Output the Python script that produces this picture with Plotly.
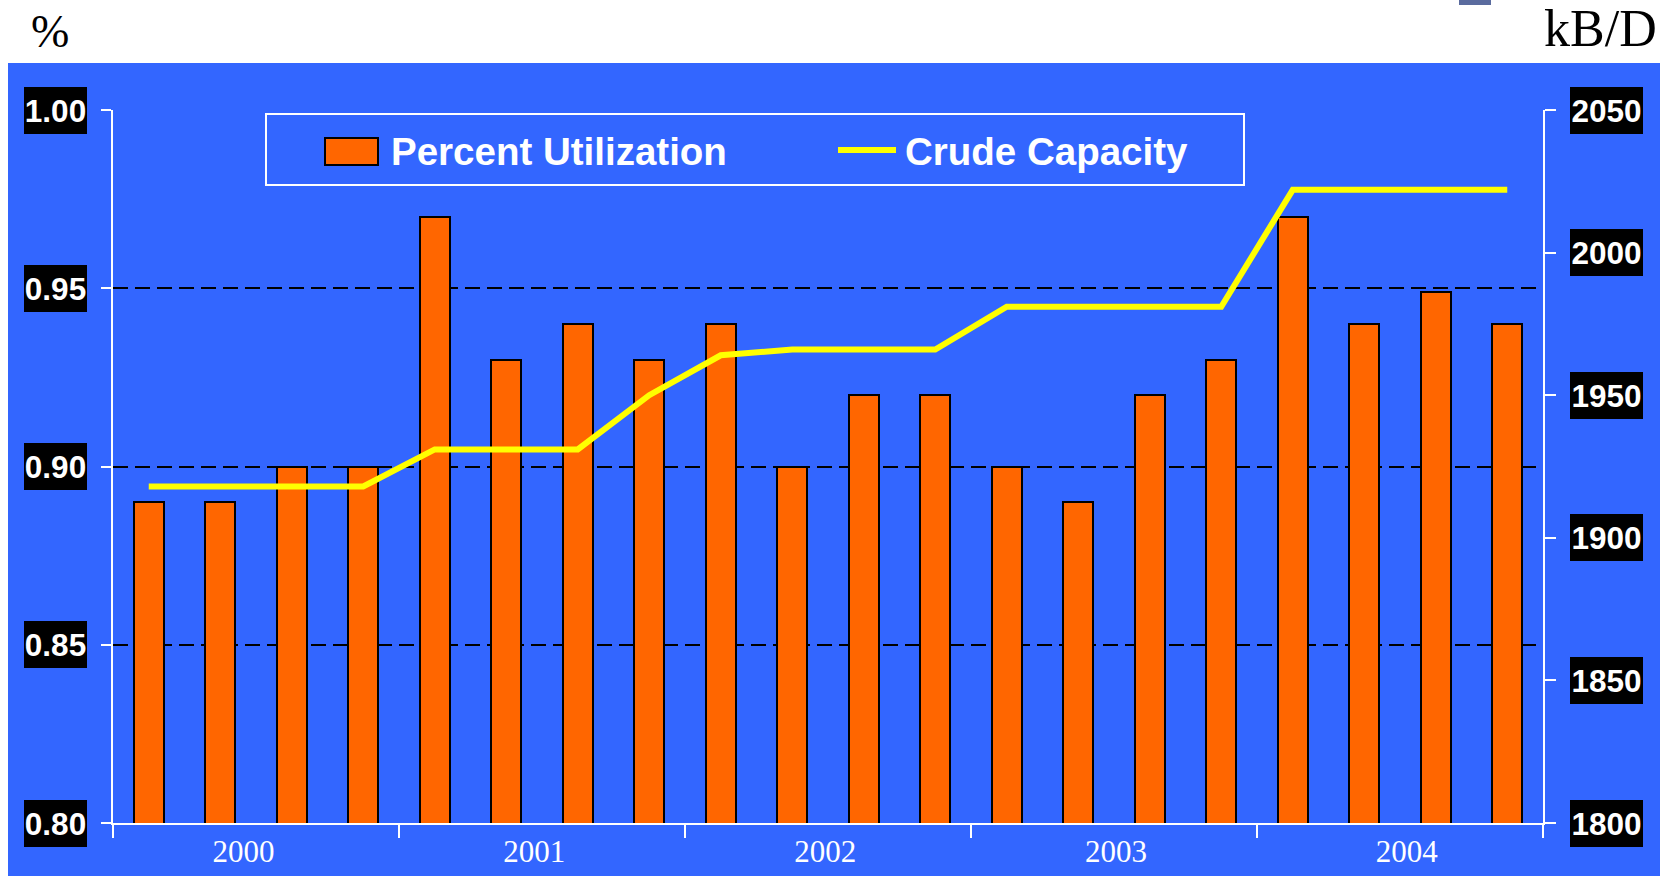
import plotly.graph_objects as go

# ---------------- data ----------------
years = ["2000", "2001", "2002", "2003", "2004"]
quarters = ["Q1", "Q2", "Q3", "Q4"]
utilization = [0.89, 0.89, 0.90, 0.90,
               0.97, 0.93, 0.94, 0.93,
               0.94, 0.90, 0.92, 0.92,
               0.90, 0.89, 0.92, 0.93,
               0.97, 0.94, 0.949, 0.94]
capacity = [1918, 1918, 1918, 1918,
            1931, 1931, 1931, 1950,
            1964, 1966, 1966, 1966,
            1981, 1981, 1981, 1981,
            2022, 2022, 2022, 2022]
left_ticks = [0.80, 0.85, 0.90, 0.95, 1.00]
left_labels = ["0.80", "0.85", "0.90", "0.95", "1.00"]
right_ticks = [1800, 1850, 1900, 1950, 2000, 2050]
right_labels = ["1800", "1850", "1900", "1950", "2000", "2050"]
series_names = ["Percent Utilization", "Crude Capacity"]

# ---------------- layout constants ----------------
W, H = 1665, 876
L, R, T, B = 113, 1543, 110, 823
BLUE = "#3366FF"
ORANGE = "#FF6600"
YELLOW = "#FFFF00"
SANS = "Liberation Sans, Arial, sans-serif"
SERIF = "Liberation Serif, Times New Roman, serif"
Y1_RANGE = [0.80, 1.00]
Y2_RANGE = [1800, 2050]

def px(xp):
    return (xp - L) / (R - L)

def py(yp):
    return (B - yp) / (B - T)

n_q = len(quarters)
n = len(years) * n_q
x_idx = list(range(n))
year_centers = [i * n_q + (n_q - 1) / 2 for i in range(len(years))]
# year labels in the original sit slightly spread out from the group centres
mid = (n - 1) / 2
label_pos = [mid + (c - mid) * 1.017 - 0.04 for c in year_centers]
year_bounds = [i * n_q - 0.5 for i in range(len(years) + 1)]

fig = go.Figure()
fig.add_trace(go.Bar(
    x=x_idx, y=utilization, name=series_names[0],
    marker=dict(color=ORANGE, line=dict(color="black", width=2)),
    width=0.42, yaxis="y", showlegend=False,
))
fig.add_trace(go.Scatter(
    x=x_idx, y=capacity, name=series_names[1], mode="lines",
    line=dict(color=YELLOW, width=6), yaxis="y2", showlegend=False,
))

fig.update_layout(
    width=W, height=H,
    margin=dict(l=L, r=W - R, t=T, b=H - B, pad=0, autoexpand=False),
    paper_bgcolor="white",
    plot_bgcolor=BLUE,
    bargap=0,
    xaxis=dict(
        range=[-0.5, n - 0.5], automargin=False,
        tickmode="array", tickvals=label_pos, ticktext=years,
        ticks="", showgrid=False, zeroline=False,
        showline=True, linecolor="white", linewidth=2,
        tickfont=dict(family=SERIF, size=31, color="white"),
        ticklabelstandoff=0,
        minor=dict(tickmode="array", tickvals=year_bounds, ticks="outside",
                   ticklen=13, tickcolor="white", tickwidth=2, showgrid=False),
    ),
    yaxis=dict(
        range=Y1_RANGE, automargin=False, tickmode="array", tickvals=left_ticks,
        showticklabels=False, ticks="outside", ticklen=10,
        tickcolor="white", tickwidth=2,
        showline=True, linecolor="white", linewidth=2,
        showgrid=True, gridcolor="black", gridwidth=2, griddash="15px,7px",
        zeroline=False,
    ),
    yaxis2=dict(
        range=Y2_RANGE, automargin=False, overlaying="y", side="right",
        tickmode="array", tickvals=right_ticks, showticklabels=False,
        ticks="outside", ticklen=11, tickcolor="white", tickwidth=2,
        showline=True, linecolor="white", linewidth=2,
        showgrid=False, zeroline=False,
    ),
    yaxis3=dict(
        range=Y2_RANGE, automargin=False, overlaying="y", side="right",
        tickmode="array", tickvals=right_ticks, showticklabels=False,
        ticks="inside", ticklen=10, tickcolor="white", tickwidth=2,
        showline=False, showgrid=False, zeroline=False,
    ),
    showlegend=False,
)

shapes = []
# blue panel behind everything
shapes.append(dict(type="rect", xref="paper", yref="paper", layer="below",
                   x0=px(8), x1=px(1660), y0=py(H + 2), y1=py(63),
                   fillcolor=BLUE, line=dict(width=0)))
# small remnant mark at top
shapes.append(dict(type="rect", xref="paper", yref="paper",
                   x0=px(1459), x1=px(1491), y0=py(5), y1=py(-2),
                   fillcolor="#5A6B9E", line=dict(width=0)))
# legend box
shapes.append(dict(type="rect", xref="paper", yref="paper",
                   x0=px(266), x1=px(1244), y0=py(185), y1=py(114),
                   fillcolor=BLUE, line=dict(color="white", width=2)))
shapes.append(dict(type="rect", xref="paper", yref="paper",
                   x0=px(325), x1=px(378), y0=py(165), y1=py(138),
                   fillcolor=ORANGE, line=dict(color="black", width=2)))
shapes.append(dict(type="line", xref="paper", yref="paper",
                   x0=px(838), x1=px(896), y0=py(150), y1=py(150),
                   line=dict(color=YELLOW, width=6)))
fig.update_layout(shapes=shapes)

ann = []
ann.append(dict(xref="paper", yref="paper", x=px(389), y=py(151),
                xanchor="left", yanchor="middle", showarrow=False,
                text="<b>" + series_names[0] + "</b>",
                font=dict(family=SANS, size=38.5, color="white")))
ann.append(dict(xref="paper", yref="paper", x=px(903), y=py(151),
                xanchor="left", yanchor="middle", showarrow=False,
                text="<b>" + series_names[1] + "</b>",
                font=dict(family=SANS, size=38.5, color="white")))
for v, t in zip(left_ticks, left_labels):
    ann.append(dict(xref="paper", yref="y", x=px(55.5), y=v,
                    xanchor="center", yanchor="middle", showarrow=False,
                    text="<b>" + t + "</b>", bgcolor="black",
                    width=63, height=47, borderpad=0, borderwidth=0,
                    align="center", valign="middle",
                    font=dict(family=SANS, size=31.5, color="white")))
for v, t in zip(right_ticks, right_labels):
    ann.append(dict(xref="paper", yref="y2", x=px(1606.5), y=v,
                    xanchor="center", yanchor="middle", showarrow=False,
                    text="<b>" + t + "</b>", bgcolor="black",
                    width=73, height=47, borderpad=0, borderwidth=0,
                    align="center", valign="middle",
                    font=dict(family=SANS, size=31.5, color="white")))
ann.append(dict(xref="paper", yref="paper", x=px(50), y=py(31),
                xanchor="center", yanchor="middle", showarrow=False,
                text="%", font=dict(family=SERIF, size=46, color="black")))
ann.append(dict(xref="paper", yref="paper", x=px(1600), y=py(29),
                xanchor="center", yanchor="middle", showarrow=False,
                text="kB/D", font=dict(family=SERIF, size=52, color="black")))
fig.update_layout(annotations=ann)

fig.write_html("out.html", config={"displayModeBar": False},
               post_script="document.body.style.margin='0';document.body.style.overflow='hidden';")
